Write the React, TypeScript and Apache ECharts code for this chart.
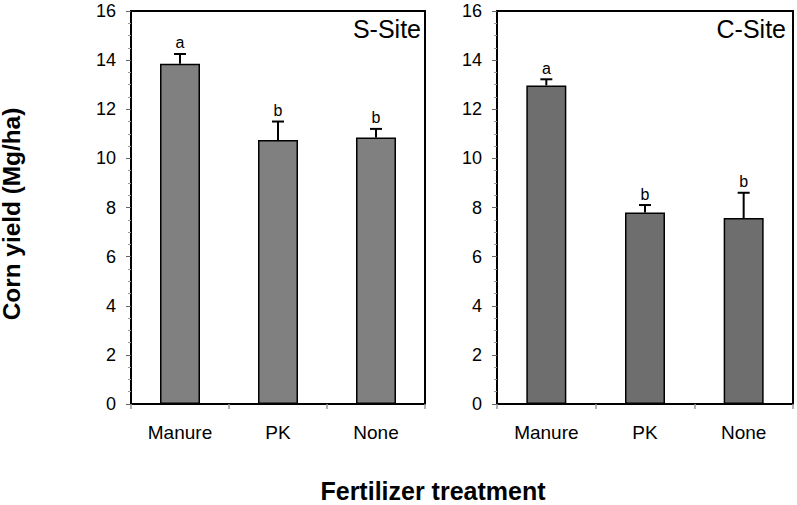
import React, { useEffect, useRef } from "react";
import * as echarts from "echarts";

const categories = ["Manure", "PK", "None"];
const sMeans = [13.85, 10.75, 10.85];
const sUpper = [14.25, 11.5, 11.2];
const sLetters = ["a", "b", "b"];
const cMeans = [12.97, 7.8, 7.57];
const cUpper = [13.22, 8.1, 8.6];
const cLetters = ["a", "b", "b"];
const yTicks = { min: 0, max: 16, interval: 2 };

const FONT = "Liberation Sans, Arial, sans-serif";

function errorSeries(idx: number, means: number[], upper: number[], letters: string[]) {
  return {
    type: "custom",
    xAxisIndex: idx,
    yAxisIndex: idx,
    z: 5,
    data: means.map((m, i) => [i, m, upper[i]]),
    renderItem: (params: any, api: any) => {
      const base = api.coord([api.value(0), api.value(1)]);
      const top = api.coord([api.value(0), api.value(2)]);
      const half = 6;
      return {
        type: "group",
        children: [
          {
            type: "line",
            shape: { x1: base[0], y1: base[1], x2: top[0], y2: top[1] },
            style: { stroke: "#000", lineWidth: 2 },
          },
          {
            type: "line",
            shape: { x1: top[0] - half, y1: top[1], x2: top[0] + half, y2: top[1] },
            style: { stroke: "#000", lineWidth: 2 },
          },
          {
            type: "text",
            x: top[0],
            y: top[1] - 3,
            style: {
              text: letters[params.dataIndex],
              fill: "#000",
              font: `16px ${FONT}`,
              textAlign: "center",
              textVerticalAlign: "bottom",
            },
          },
        ],
      };
    },
  };
}

export default function App() {
  const ref = useRef<HTMLDivElement>(null);
  useEffect(() => {
    if (!ref.current) return;
    const chart = echarts.init(ref.current, undefined, { renderer: "svg" });
    const xAxisBase = {
      type: "category",
      data: categories,
      axisLine: { lineStyle: { color: "#000", width: 2 } },
      axisTick: { show: true, length: 5, lineStyle: { color: "#999", width: 1.5 } },
      axisLabel: { color: "#000", fontSize: 19, fontFamily: FONT, margin: 19 },
    };
    const yAxisBase = {
      type: "value",
      min: yTicks.min,
      max: yTicks.max,
      interval: yTicks.interval,
      splitLine: { show: false },
      axisLine: { show: true, lineStyle: { color: "#000", width: 2 } },
      axisTick: { show: true, length: 5, lineStyle: { color: "#666", width: 1 } },
      minorTick: { show: true, splitNumber: 4, length: 3, lineStyle: { color: "#999", width: 1 } },
      axisLabel: { color: "#000", fontSize: 18, fontFamily: FONT, margin: 15 },
    };
    chart.setOption({
      animation: false,
      backgroundColor: "#fff",
      grid: [
        { left: 131, top: 11, width: 294, height: 393, show: true, borderColor: "#000", borderWidth: 2 },
        { left: 497, top: 11, width: 296, height: 393, show: true, borderColor: "#000", borderWidth: 2 },
      ],
      xAxis: [
        { ...xAxisBase, gridIndex: 0 },
        { ...xAxisBase, gridIndex: 1 },
      ],
      yAxis: [
        { ...yAxisBase, gridIndex: 0 },
        { ...yAxisBase, gridIndex: 1 },
      ],
      series: [
        {
          type: "bar",
          xAxisIndex: 0,
          yAxisIndex: 0,
          data: sMeans,
          barWidth: 40,
          itemStyle: { color: "#808080", borderColor: "#000", borderWidth: 1.5 },
        },
        {
          type: "bar",
          xAxisIndex: 1,
          yAxisIndex: 1,
          data: cMeans,
          barWidth: 40,
          itemStyle: { color: "#6e6e6e", borderColor: "#000", borderWidth: 1.5 },
        },
        errorSeries(0, sMeans, sUpper, sLetters),
        errorSeries(1, cMeans, cUpper, cLetters),
      ],
      graphic: [
        {
          type: "text",
          x: 421,
          y: 29,
          style: {
            text: "S-Site",
            font: `25px ${FONT}`,
            fill: "#000",
            textAlign: "right",
            textVerticalAlign: "middle",
          },
        },
        {
          type: "text",
          x: 786,
          y: 29,
          style: {
            text: "C-Site",
            font: `25px ${FONT}`,
            fill: "#000",
            textAlign: "right",
            textVerticalAlign: "middle",
          },
        },
        {
          type: "text",
          x: 12,
          y: 214,
          rotation: Math.PI / 2,
          scaleX: 1.06,
          style: {
            text: "Corn yield (Mg/ha)",
            font: `bold 23px ${FONT}`,
            fill: "#000",
            textAlign: "center",
            textVerticalAlign: "middle",
          },
        },
        {
          type: "text",
          x: 433,
          y: 491,
          style: {
            text: "Fertilizer treatment",
            font: `bold 25px ${FONT}`,
            fill: "#000",
            textAlign: "center",
            textVerticalAlign: "middle",
          },
        },
      ],
    });
    return () => chart.dispose();
  }, []);
  return (
    <div
      ref={ref}
      style={{ position: "absolute", left: 0, top: 0, width: 797, height: 505 }}
    />
  );
}
